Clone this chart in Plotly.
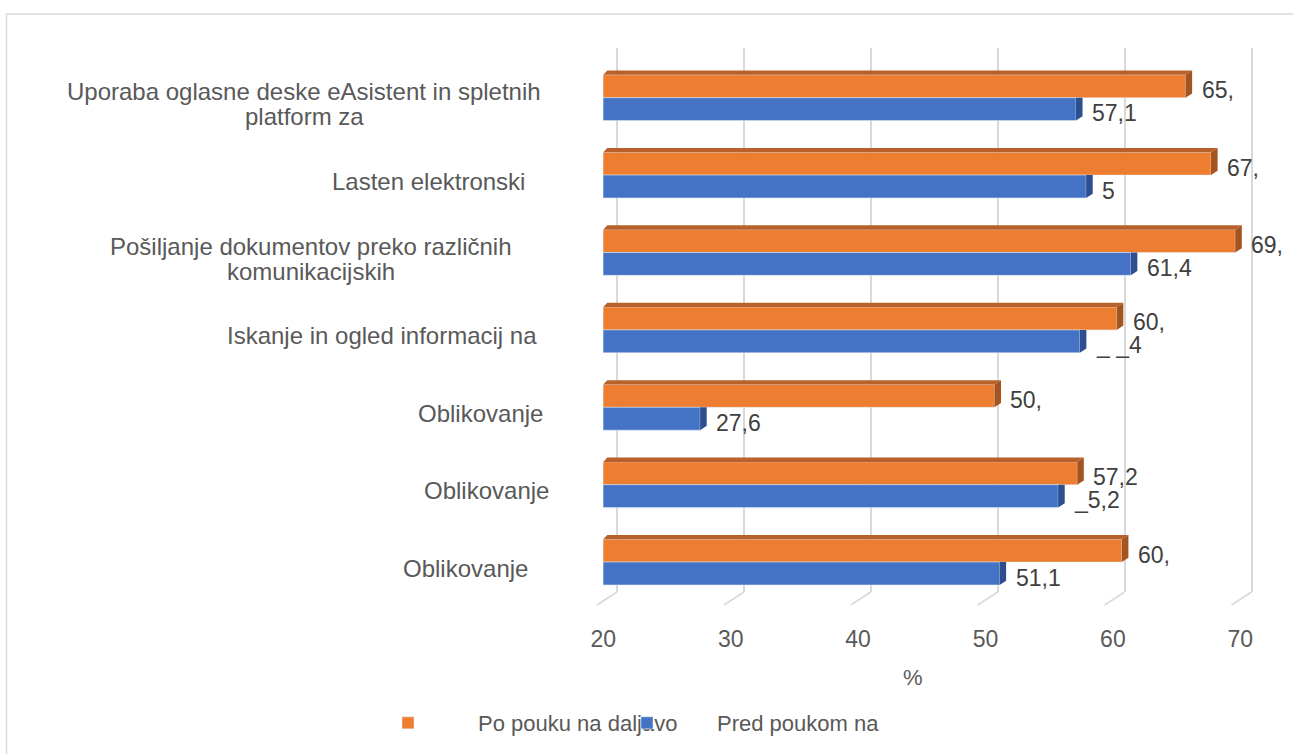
import plotly.graph_objects as go

# ── Data ────────────────────────────────────────────
categories = [
    "Uporaba oglasne deske eAsistent in spletnih<br>platform za",
    "Lasten elektronski",
    "Pošiljanje dokumentov preko različnih<br>komunikacijskih",
    "Iskanje in ogled informacij na",
    "Oblikovanje",
    "Oblikovanje",
    "Oblikovanje",
]
po_pouku = [65.7, 67.7, 69.6, 60.3, 50.7, 57.2, 60.7]       # orange
pred_poukom = [57.1, 57.9, 61.4, 57.4, 27.6, 55.7, 51.1]    # blue
po_labels = ["65,", "67,", "69,", "60,", "50,", "57,2", "60,"]
pred_labels = ["57,1", "5", "61,4", "_ _4", "27,6", "_5,2", "51,1"]
ticks = [20, 30, 40, 50, 60, 70]
series_names = ["Po pouku na daljavo", "Pred poukom na"]

# ── Layout helpers (pixels -> paper) ────────────────
W, H = 1293, 754
FONT = "Liberation Sans, Arial, sans-serif"
GREY = "#595959"
ORANGE, BLUE = "#ED7D31", "#4472C4"


def fx(p):
    return p / W


def fy(p):
    return 1 - p / H


ypos = list(range(len(categories)))
label_cx = [304, 428, 311, 382, 480, 486, 465]

# front plane (bars) and back plane (gridlines)
FU, F0 = 12.74, 603.3
GU, G0 = 12.69, 617.0
BW = 0.295            # bar thickness in category units
DX = 6.6 / FU         # 3D depth offset
DY = 4.3 / 77.4

fig = go.Figure()

# dummy trace so the back-grid subplot exists
fig.add_trace(go.Scatter(x=[None], y=[None], xaxis="x", yaxis="y",
                         showlegend=False, hoverinfo="skip"))

fig.add_trace(go.Bar(y=ypos, x=po_pouku, orientation="h", name=series_names[0],
                     marker=dict(color=ORANGE), xaxis="x2", yaxis="y2",
                     legend="legend"))
fig.add_trace(go.Bar(y=ypos, x=pred_poukom, orientation="h", name=series_names[1],
                     marker=dict(color=BLUE), xaxis="x2", yaxis="y2",
                     legend="legend2"))

shapes = []
# 3D faces on the bars
for i, v in enumerate(po_pouku):
    yt, yb = i - BW, i
    shapes.append(dict(type="path", xref="x2", yref="y2", line_width=0,
                       fillcolor="#B8612A",
                       path=f"M 20,{yt} L {20 + DX * 0.6},{yt - DY} L {v + DX},{yt - DY} L {v},{yt} Z"))
    shapes.append(dict(type="path", xref="x2", yref="y2", line_width=0,
                       fillcolor="#A4541F",
                       path=f"M {v},{yt} L {v + DX},{yt - DY} L {v + DX},{yb - DY} L {v},{yb} Z"))
for i, v in enumerate(pred_poukom):
    yt, yb = i, i + BW
    shapes.append(dict(type="path", xref="x2", yref="y2", line_width=0,
                       fillcolor="#2E4F8F",
                       path=f"M {v},{yt} L {v + DX},{yt} L {v + DX},{yb - DY} L {v},{yb} Z"))

# feet of the gridlines (back plane -> front edge)
for t in ticks:
    xb = G0 + (t - 20) * GU
    shapes.append(dict(type="line", xref="paper", yref="paper",
                       x0=fx(xb), y0=fy(592), x1=fx(xb - 20), y1=fy(605),
                       line=dict(color="#D9D9D9", width=1.5)))

# chart frame
shapes.append(dict(type="path", xref="paper", yref="paper",
                   path=f"M {fx(6.5)},{fy(760)} L {fx(6.5)},{fy(14)} L {fx(1300)},{fy(14)}",
                   line=dict(color="#D9D9D9", width=1.5)))

annotations = []
for i, txt in enumerate(categories):
    lines = txt.split("<br>")
    for k, line in enumerate(lines):
        off = (k - (len(lines) - 1) / 2) * 25
        annotations.append(dict(x=fx(label_cx[i]), xref="paper", y=i, yref="y2",
                                yshift=-6 - off, text=line, showarrow=False,
                                xanchor="center", yanchor="middle",
                                font=dict(family=FONT, size=24, color=GREY)))
for i, v in enumerate(po_pouku):
    annotations.append(dict(x=v, xref="x2", y=i - BW / 2, yref="y2", text=po_labels[i],
                            showarrow=False, xanchor="left", xshift=14, yshift=-4,
                            font=dict(family=FONT, size=23, color="#404040")))
for i, v in enumerate(pred_poukom):
    annotations.append(dict(x=v, xref="x2", y=i + BW / 2, yref="y2", text=pred_labels[i],
                            showarrow=False, xanchor="left", xshift=14, yshift=-4,
                            font=dict(family=FONT, size=23, color="#404040")))
# axis title
annotations.append(dict(x=fx(913), y=fy(677), xref="paper", yref="paper", text="%",
                        showarrow=False, xanchor="center", yanchor="middle",
                        font=dict(family=FONT, size=22, color=GREY)))

fig.update_layout(
    width=W, height=H,
    margin=dict(l=0, r=0, t=0, b=0, pad=0, autoexpand=False),
    paper_bgcolor="white", plot_bgcolor="rgba(0,0,0,0)",
    font=dict(family=FONT, color=GREY),
    barmode="group", bargap=0.41, bargroupgap=0,
    xaxis=dict(domain=[fx(G0 - 0.1 * GU), fx(G0 + 50.1 * GU)], range=[19.9, 70.1],
               anchor="y", tickvals=ticks, showticklabels=False, showgrid=True,
               gridcolor="#D9D9D9", gridwidth=1.5, zeroline=False, showline=False,
               automargin=False),
    yaxis=dict(domain=[fy(592), fy(48)], range=[0, 1], anchor="x", visible=False),
    xaxis2=dict(domain=[fx(F0), fx(F0 + 51 * FU)], range=[20, 71], anchor="y2",
                tickvals=ticks, showgrid=False, zeroline=False, showline=False,
                ticklabelstandoff=18, automargin=False,
                tickfont=dict(family=FONT, size=23, color=GREY)),
    yaxis2=dict(domain=[fy(605), fy(48)], range=[6.554, -0.642], anchor="x2",
                visible=False),
    legend=dict(orientation="h", x=fx(338), y=fy(723), xanchor="left", yanchor="middle",
                itemwidth=130, bgcolor="rgba(0,0,0,0)",
                font=dict(family=FONT, size=22, color=GREY)),
    legend2=dict(orientation="h", x=fx(577), y=fy(723), xanchor="left", yanchor="middle",
                 itemwidth=130, bgcolor="rgba(0,0,0,0)",
                 font=dict(family=FONT, size=22, color=GREY)),
    shapes=shapes,
    annotations=annotations,
)

# page body has a default 8px margin; drop it so the figure sits at the window origin
fig.write_html("out.html", config={"displayModeBar": False},
               post_script="document.body.style.margin='0';")
